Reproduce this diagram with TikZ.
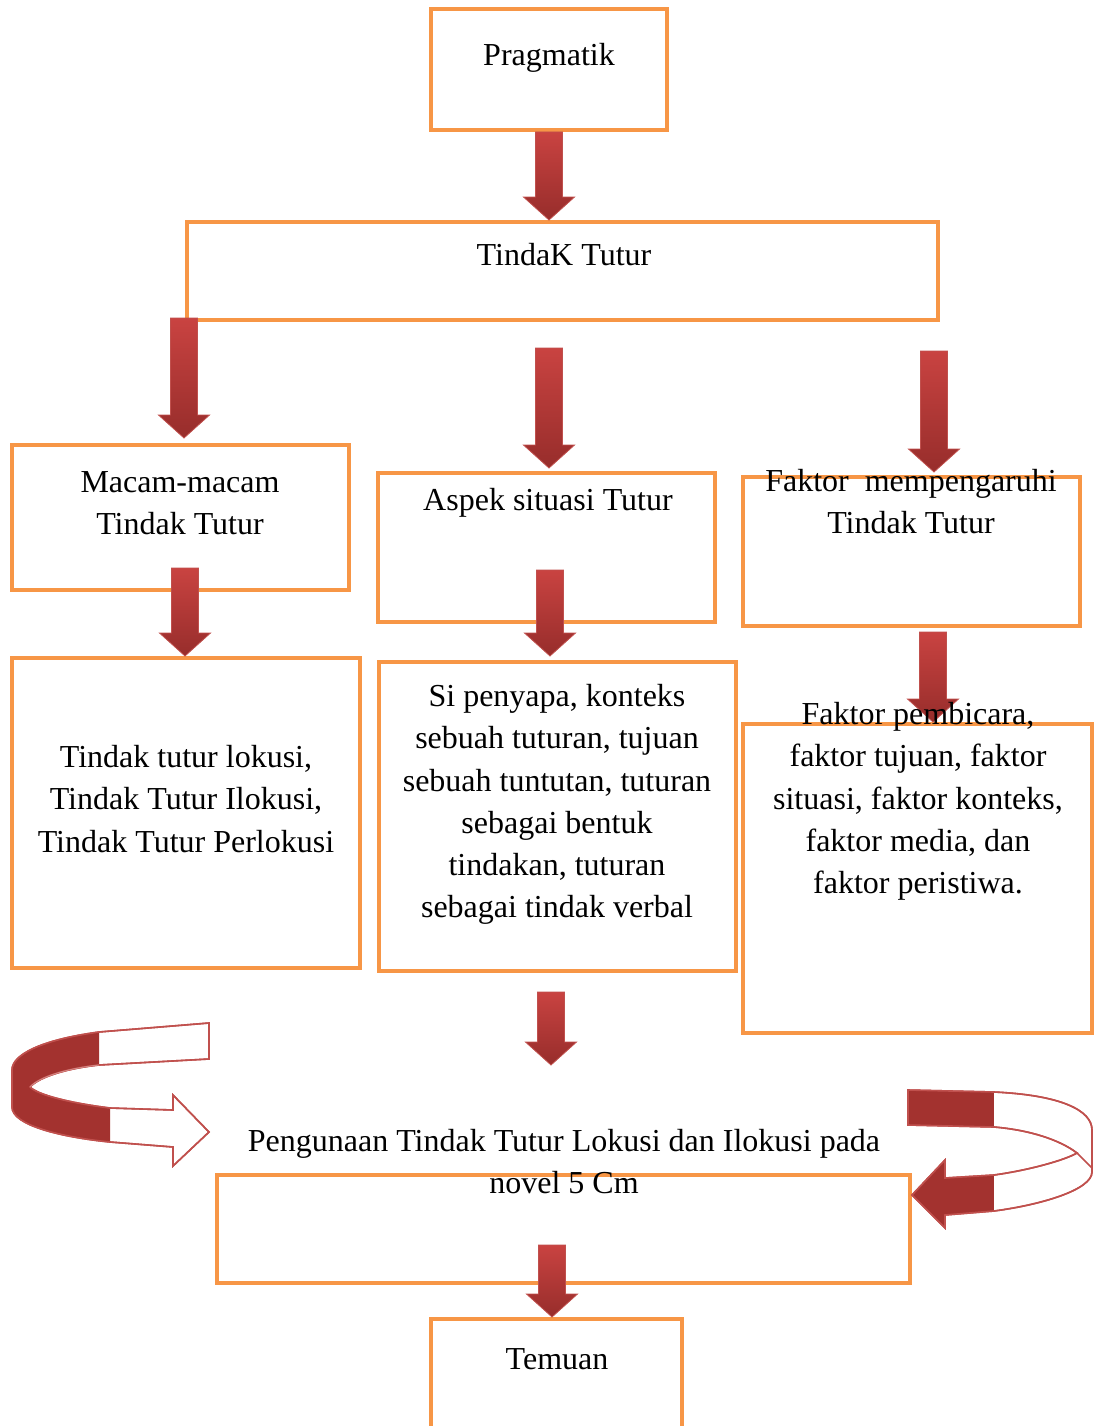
\documentclass[tikz,border=0pt]{standalone}
\usepackage{fontspec}
\setmainfont{Liberation Serif}
\usetikzlibrary{calc}
\definecolor{boxorange}{HTML}{F79646}
\definecolor{arrowred}{HTML}{C0504D}
\definecolor{arrowtop}{HTML}{C94341}
\definecolor{arrowbot}{HTML}{972D2B}
\definecolor{ribbondark}{HTML}{A3322F}

\newcommand{\blockarr}[2]{%
\path[arrowfill] let \p1=#1, \p2=#2 in
 (\x1-13.5pt,\y1) -- (\x1+13.5pt,\y1) -- (\x1+13.5pt,\y2+23pt) -- (\x1+25.5pt,\y2+23pt)
 -- (\x1,\y2) -- (\x1-25.5pt,\y2+23pt) -- (\x1-13.5pt,\y2+23pt) -- cycle;}

\def\leftribbon{(209,1023) -- (99,1032) .. controls (40,1040) and (12,1055) .. (12,1070)
 -- (12,1107) .. controls (12,1125) and (60,1137) .. (110,1142) -- (173,1147)
 -- (173,1166) -- (209,1132) -- (173,1095) -- (173,1110) -- (110,1108)
 .. controls (70,1103) and (38,1095) .. (30,1087) .. controls (40,1076) and (70,1068) .. (99,1065)
 -- (209,1059) -- cycle}
\def\rightribbon{(908,1090) -- (994,1092) .. controls (1060,1095) and (1092,1110) .. (1092,1130)
 -- (1092,1172) .. controls (1092,1190) and (1040,1205) .. (994,1211) -- (945,1215)
 -- (945,1228) -- (912,1195) -- (945,1160) -- (945,1178) -- (994,1175)
 .. controls (1030,1170) and (1065,1160) .. (1077,1153) .. controls (1060,1140) and (1030,1130) .. (994,1127)
 -- (908,1125) -- cycle}

\begin{document}
\begin{tikzpicture}[x=1pt, y=-1pt,
 box/.style={draw=boxorange, line width=4pt, inner sep=0pt},
 txt/.style={align=center, inner sep=0pt, anchor=north, font=\fontsize{32pt}{42.3pt}\selectfont},
 arrowfill/.style={shade, top color=arrowtop, bottom color=arrowbot, draw=arrowred, line width=0.8pt},
 ribbon/.style={draw=arrowred, line width=1.6pt, fill=white}]
\useasboundingbox (0,0) rectangle (1096,1426);
\clip (0,0) rectangle (1096,1426);

% boxes
\node[box, minimum width=236pt, minimum height=121pt] (prag) at (549,69.5) {};
\node[box, minimum width=751pt, minimum height=98pt] (tindak) at (562.5,271) {};
\node[box, minimum width=337pt, minimum height=145pt] (macam) at (180.5,517.5) {};
\node[box, minimum width=337pt, minimum height=149pt] (aspek) at (546.5,547.5) {};
\node[box, minimum width=337pt, minimum height=149pt] (faktor) at (911.5,551.5) {};
\node[box, minimum width=348pt, minimum height=310pt] (lokusi) at (186,813) {};
\node[box, minimum width=357pt, minimum height=309pt] (penyapa) at (557.5,816.5) {};
\node[box, minimum width=349pt, minimum height=309pt] (pembicara) at (917.5,878.5) {};
\node[box, minimum width=693pt, minimum height=108pt] (pengunaan) at (563.5,1229) {};
\node[box, minimum width=251pt, minimum height=135pt] (temuan) at (556.5,1386.5) {};

% block arrows
\coordinate (a2-top) at (184,318);  \coordinate (a2-tip) at (184,438);
\coordinate (a3-top) at (549,348);  \coordinate (a3-tip) at (549,468);
\coordinate (a4-top) at (934,351);  \coordinate (a4-tip) at (934,472);
\coordinate (a5-top) at (185,568);  \coordinate (a5-tip) at (185,656);
\coordinate (a6-top) at (550,570);  \coordinate (a6-tip) at (550,656);
\coordinate (a7-top) at (933,632);  \coordinate (a7-tip) at (933,722);
\coordinate (a8-top) at (551,992);  \coordinate (a8-tip) at (551,1065);
\coordinate (a9-top) at (552,1245); \coordinate (a9-tip) at (552,1317);
\blockarr{(prag.south)}{(tindak.north)}
\foreach \arr in {a2,a3,a4,a5,a6,a7,a8,a9}
  \blockarr{(\arr-top)}{(\arr-tip)};

% curved arrows
\draw[ribbon] \leftribbon;
\begin{scope}
\clip \leftribbon;
\fill[ribbondark] (0,1000) -- (99,1000) -- (99,1087) -- (110,1087) -- (110,1170) -- (0,1170) -- cycle;
\end{scope}
\draw[arrowred, line width=1.6pt] \leftribbon;
\draw[arrowred!70, line width=1pt] (30,1087) .. controls (40,1076) and (70,1068) .. (99,1065);

\draw[ribbon] \rightribbon;
\begin{scope}
\clip \rightribbon;
\fill[ribbondark] (900,1080) -- (994,1080) -- (994,1240) -- (900,1240) -- cycle;
\end{scope}
\draw[arrowred, line width=1.6pt] \rightribbon;
\draw[arrowred, line width=1.6pt] (1077,1153) -- (1092,1168);

% texts
\node[txt] (pragtxt) at (549,43) {Pragmatik};
\node[txt] (tindaktxt) at (564,243) {TindaK Tutur};
\node[txt] (macamtxt) at (180,471) {Macam-macam\\Tindak Tutur};
\node[txt] (aspektxt) at (548,488) {Aspek situasi Tutur};
\node[txt] (faktortxt) at (911,469) {Faktor\ \ mempengaruhi\\Tindak Tutur};
\node[txt] (lokusitxt) at (186,745) {Tindak tutur lokusi,\\Tindak Tutur Ilokusi,\\Tindak Tutur Perlokusi};
\node[txt] (penyapatxt) at (557,684) {Si penyapa, konteks\\sebuah tuturan, tujuan\\sebuah tuntutan, tuturan\\sebagai bentuk\\tindakan, tuturan\\sebagai tindak verbal};
\node[txt] (pembicaratxt) at (918,702) {Faktor pembicara,\\faktor tujuan, faktor\\situasi, faktor konteks,\\faktor media, dan\\faktor peristiwa.};
\node[txt] (pengunaantxt) at (564,1129) {Pengunaan Tindak Tutur Lokusi dan Ilokusi pada\\novel 5 Cm};
\node[txt] (temuantxt) at (557,1348) {Temuan};
\end{tikzpicture}
\end{document}
